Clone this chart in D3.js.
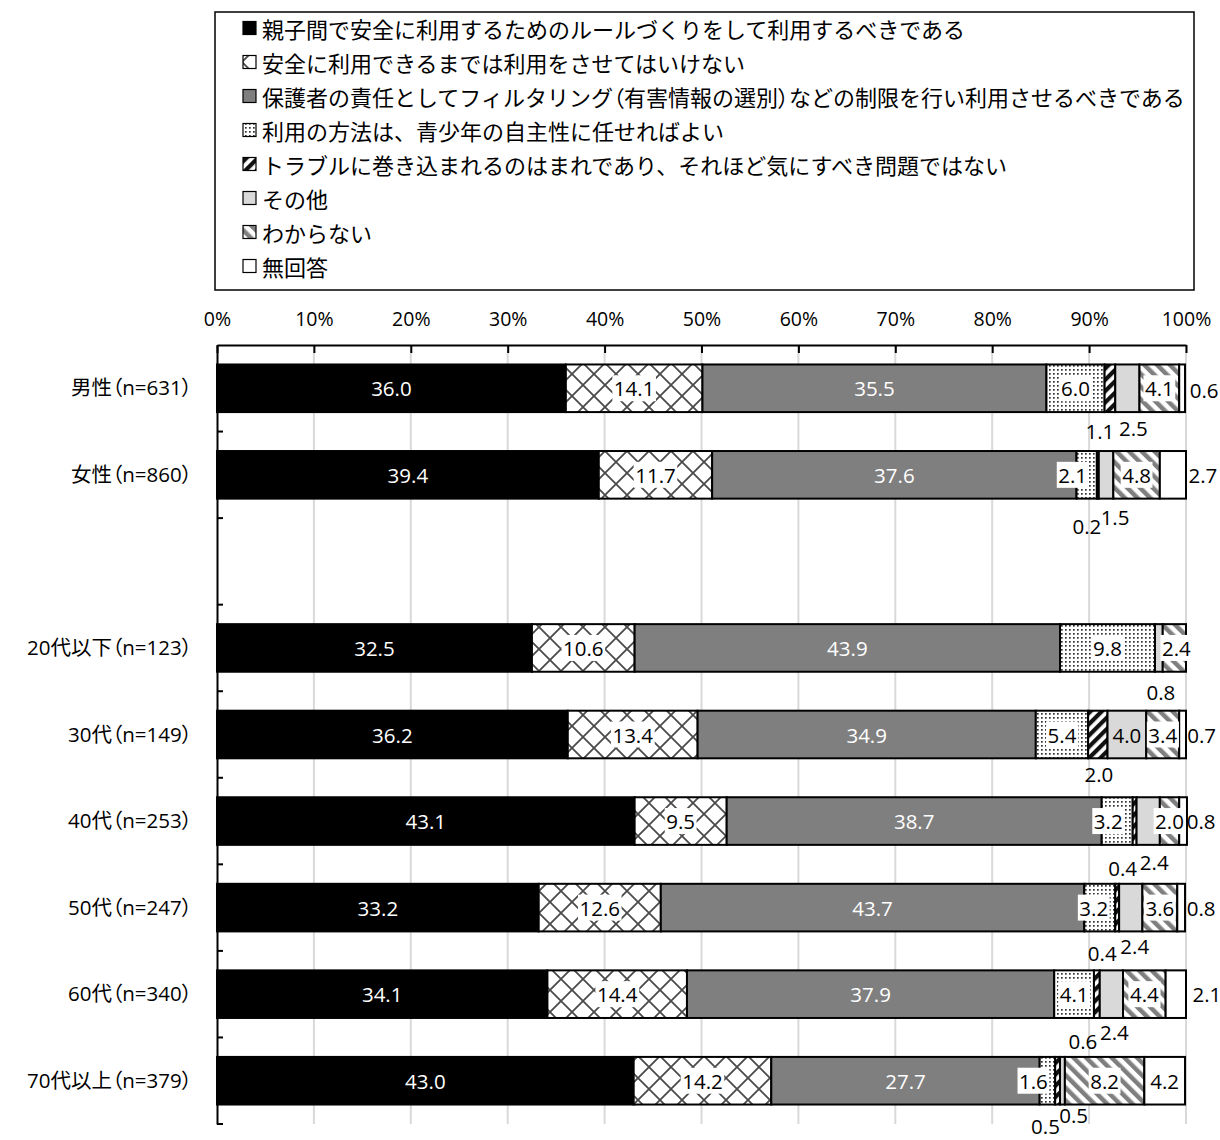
<!DOCTYPE html>
<html><head><meta charset="utf-8">
<script src="https://cdn.jsdelivr.net/npm/d3@7"></script>
<style>body{margin:0;background:#fff} .palt{font-feature-settings:"palt" 1;}</style>
</head><body>
<svg id="c" width="1220" height="1140"></svg>
<script>
// ---------- data ----------
const categories = ["男性（n=631）","女性（n=860）","","20代以下（n=123）","30代（n=149）","40代（n=253）","50代（n=247）","60代（n=340）","70代以上（n=379）"];
const seriesNames = [
  "親子間で安全に利用するためのルールづくりをして利用するべきである",
  "安全に利用できるまでは利用をさせてはいけない",
  "保護者の責任としてフィルタリング（有害情報の選別）などの制限を行い利用させるべきである",
  "利用の方法は、青少年の自主性に任せればよい",
  "トラブルに巻き込まれるのはまれであり、それほど気にすべき問題ではない",
  "その他",
  "わからない",
  "無回答"
];
const s1 = [36.0, 39.4, null, 32.5, 36.2, 43.1, 33.2, 34.1, 43.0];
const s2 = [14.1, 11.7, null, 10.6, 13.4,  9.5, 12.6, 14.4, 14.2];
const s3 = [35.5, 37.6, null, 43.9, 34.9, 38.7, 43.7, 37.9, 27.7];
const s4 = [ 6.0,  2.1, null,  9.8,  5.4,  3.2,  3.2,  4.1,  1.6];
const s5 = [ 1.1,  0.2, null,  0.0,  2.0,  0.4,  0.4,  0.6,  0.5];
const s6 = [ 2.5,  1.5, null,  0.8,  4.0,  2.4,  2.4,  2.4,  0.5];
const s7 = [ 4.1,  4.8, null,  2.4,  3.4,  2.0,  3.6,  4.4,  8.2];
const s8 = [ 0.6,  2.7, null,  0.0,  0.7,  0.8,  0.8,  2.1,  4.2];
const seriesValues = [s1, s2, s3, s4, s5, s6, s7, s8];
const tickValues = [0,10,20,30,40,50,60,70,80,90,100];
const tickLabels = ["0%","10%","20%","30%","40%","50%","60%","70%","80%","90%","100%"];

// ---------- styling / placement (not data) ----------
const fills = ["#000000","url(#p2)","#7f7f7f","url(#p4)","url(#p5)","#d9d9d9","url(#p7)","#ffffff"];
const labelColors = ["#fff","#000","#fff","#000","#000","#000","#000","#000"];
const boxedSeries = [1,3,4,6];
// [row, series, dx, dy] : manual label offsets from segment centre
const labelOffsets = [
  [0,4,-10,43],[0,5,6,40],[0,7,22,2],
  [1,3,-14,0],[1,4,-11,51],[1,5,9,42],[1,7,30,0],
  [3,5,2,44],[3,6,2,0],
  [4,4,1,39],[4,7,19,0],
  [5,3,-9,0],[5,4,-12,47],[5,5,6,41],[5,7,18,0],
  [6,3,-6,0],[6,4,-15,45],[6,5,4,38],[6,7,20,0],
  [7,4,-14,47],[7,5,3,38],[7,7,31,0],
  [8,3,-14,0],[8,4,16,34],[8,5,-17,45]
];
const NUMFONT = "'Open Sans','Noto Sans CJK JP',sans-serif";
const JPFONT = "'Noto Sans CJK JP','Open Sans',sans-serif";

const svg = d3.select("#c");
const defs = svg.append("defs");

// split text so that fullwidth parentheses get proportional widths
function fillText(sel, str) {
  const parts = str.split(/([（）])/).filter(s=>s.length);
  parts.forEach(p=>{
    const t = sel.append("tspan").text(p);
    if (p==="（"||p==="）") t.attr("class","palt");
  });
}

// patterns
const p2 = defs.append("pattern").attr("id","p2").attr("patternUnits","userSpaceOnUse").attr("width",22).attr("height",22);
p2.append("rect").attr("width",22).attr("height",22).attr("fill","#fff");
p2.append("path").attr("d","M0,0L22,22M22,0L0,22").attr("stroke","#4a4a4a").attr("stroke-width",1.8);
const p4 = defs.append("pattern").attr("id","p4").attr("patternUnits","userSpaceOnUse").attr("width",4).attr("height",4);
p4.append("rect").attr("width",4).attr("height",4).attr("fill","#fff");
p4.append("rect").attr("x",1).attr("y",1).attr("width",1.7).attr("height",1.7).attr("fill","#333");
const p5 = defs.append("pattern").attr("id","p5").attr("patternUnits","userSpaceOnUse").attr("width",8).attr("height",8).attr("patternTransform","rotate(45)");
p5.append("rect").attr("width",8).attr("height",8).attr("fill","#fff");
p5.append("rect").attr("width",4.2).attr("height",8).attr("fill","#111");
const p7 = defs.append("pattern").attr("id","p7").attr("patternUnits","userSpaceOnUse").attr("width",9).attr("height",9).attr("patternTransform","rotate(-45)");
p7.append("rect").attr("width",9).attr("height",9).attr("fill","#fff");
p7.append("rect").attr("width",4.5).attr("height",9).attr("fill","#7f7f7f");

// scales
const x = d3.scaleLinear().domain([0,100]).range([217,1186]);
const y = d3.scaleBand().domain(d3.range(categories.length)).range([345,1124]).paddingInner(0.45).paddingOuter(0.225);
const step = y.step();

// gridlines
svg.append("g").selectAll("line").data(tickValues.filter(v=>v>0)).join("line")
  .attr("x1",d=>x(d)).attr("x2",d=>x(d)).attr("y1",345).attr("y2",1124)
  .attr("stroke","#d9d9d9").attr("stroke-width",2);

// top axis
const xAxis = d3.axisTop(x).tickValues(tickValues).tickFormat((d,i)=>tickLabels[i])
  .tickSizeInner(-8).tickSizeOuter(0).tickPadding(19);
const gx = svg.append("g").attr("transform","translate(0,345)").call(xAxis);
gx.select(".domain").attr("stroke","#000").attr("stroke-width",2);
gx.selectAll(".tick line").attr("stroke","#000").attr("stroke-width",2);
gx.selectAll(".tick text").attr("font-family",NUMFONT).attr("font-size",19.5).attr("fill","#000");

// bars
const stacked = categories.map((c,i)=>{
  let acc = 0;
  return seriesValues.map((s,k)=>{
    const v = s[i];
    const seg = {row:i, k, v, x0:acc, x1:acc+(v||0)};
    acc += (v||0);
    return seg;
  });
});
const segs = stacked.flat().filter(d=>d.v!==null && d.v>0);
svg.append("g").selectAll("rect").data(segs).join("rect")
  .attr("x",d=>x(d.x0)).attr("width",d=>x(d.x1)-x(d.x0))
  .attr("y",d=>y(d.row)).attr("height",y.bandwidth())
  .attr("fill",d=>fills[d.k]).attr("stroke","#000").attr("stroke-width",2);

// left axis
const yAxis = d3.axisLeft(y).tickFormat("").tickSize(0);
const gy = svg.append("g").attr("transform","translate(217,0)").call(yAxis);
gy.select(".domain").attr("stroke","#000").attr("stroke-width",2);
gy.selectAll(".tick").each(function(i){
  const t = d3.select(this).select("text").text(null)
    .attr("x",-25).attr("dy","0.35em").attr("font-family",NUMFONT).attr("font-size",20.5)
    .attr("fill","#000").attr("text-anchor","end");
  fillText(t, categories[i]);
});
svg.append("g").selectAll("line").data(d3.range(1,categories.length+1)).join("line")
  .attr("x1",217).attr("x2",223).attr("y1",k=>345+step*k).attr("y2",k=>345+step*k)
  .attr("stroke","#000").attr("stroke-width",2);

// labels
const offMap = new Map(labelOffsets.map(o=>[o[0]+"_"+o[1],[o[2],o[3]]]));
const lg = svg.append("g");
segs.forEach(d=>{
  const off = offMap.get(d.row+"_"+d.k) || [0,0];
  const cx = (x(d.x0)+x(d.x1))/2 + off[0];
  const cy = y(d.row)+y.bandwidth()/2 + off[1];
  const outside = off[1]!==0 || (d.k===7 && off[0]>0);
  const g = lg.append("g");
  const t = g.append("text").attr("x",cx).attr("y",cy).attr("text-anchor","middle")
    .attr("dominant-baseline","central").attr("font-family",NUMFONT).attr("font-size",20.5)
    .attr("fill", outside ? "#000" : labelColors[d.k]).text(d.v.toFixed(1));
  if (!outside && boxedSeries.includes(d.k)) {
    const bb = t.node().getBBox();
    g.insert("rect","text").attr("x",bb.x-1.5).attr("y",cy-13).attr("width",bb.width+3).attr("height",26).attr("fill","#fff");
  }
});

// legend
svg.append("rect").attr("x",215).attr("y",12).attr("width",979).attr("height",278)
  .attr("fill","#fff").attr("stroke","#000").attr("stroke-width",1.5);
const leg = svg.append("g").selectAll("g").data(seriesNames).join("g")
  .attr("transform",(d,i)=>`translate(0,${28+34*i})`);
leg.append("rect").attr("x",243).attr("y",-6.5).attr("width",13).attr("height",13)
  .attr("fill",(d,i)=>fills[i]).attr("stroke","#000").attr("stroke-width",1.2);
leg.append("text").attr("x",262).attr("y",0).attr("dominant-baseline","central")
  .attr("font-family",JPFONT).attr("font-size",22).attr("fill","#000")
  .each(function(d){ fillText(d3.select(this), d); });
</script>
</body></html>
